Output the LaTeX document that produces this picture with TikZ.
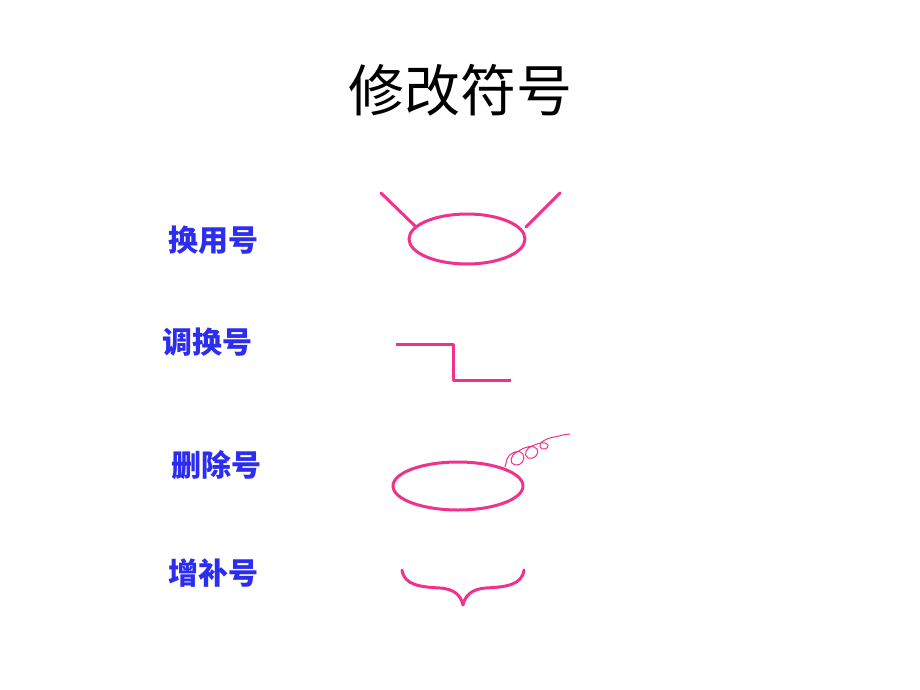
\documentclass[tikz,border=0pt]{standalone}
\usepackage{fontspec}
\newfontfamily\cjk{Noto Sans CJK SC}
\definecolor{markpink}{RGB}{240,50,140}
\definecolor{labelblue}{RGB}{45,45,240}
\tikzset{
  mark line/.style={draw=markpink, line width=3pt, line cap=round, line join=round},
  label text/.style={font=\cjk\bfseries\fontsize{30}{34}\selectfont, text=labelblue, inner sep=0pt},
}
\begin{document}
\begin{tikzpicture}[x=1pt,y=-1pt]
\useasboundingbox (0,0) rectangle (920,690);
\fill[white] (0,0) rectangle (920,690);
% title
\node[font=\cjk\fontsize{56}{62}\selectfont, inner sep=0pt] (title) at (460,90) {修改符号};
% labels
\node[label text] (l1) at (213,240) {换用号};
\node[label text] (l2) at (207,342) {调换号};
\node[label text] (l3) at (216,465) {删除号};
\node[label text] (l4) at (213,573) {增补号};
% 换用号 symbol
\draw[mark line] (467,239) ellipse [x radius=58, y radius=25];
\draw[mark line] (381,193) -- (415,226);
\draw[mark line] (560,193) -- (526,227);
% 调换号 symbol
\draw[mark line, line cap=butt] (396,344) -- (453,344) -- (453,380) -- (511,380);
% 删除号 symbol
\draw[mark line] (458,486) ellipse [x radius=65, y radius=24];
\draw[markpink, line width=1pt, line join=round]
  (505,467) -- (507,459)
  .. controls (510,452) and (520,449) .. (523,454)
  .. controls (526,460) and (521,466) .. (515,465)
  .. controls (509,464) and (510,455) .. (517,452)
  .. controls (524,447) and (534,444) .. (537,449)
  .. controls (540,455) and (533,460) .. (528,458)
  .. controls (523,455) and (526,448) .. (532,446)
  .. controls (538,443) and (546,441) .. (548,445)
  .. controls (549,449) and (542,451) .. (540,447)
  .. controls (538,442) and (548,438) .. (554,437)
  .. controls (560,436) and (565,434) .. (570,434);
% 增补号 symbol
\draw[mark line]
  (402,570) .. controls (404,585) and (420,587) .. (440,588)
  .. controls (455,589) and (461,596) .. (463,605)
  .. controls (465,596) and (471,589) .. (486,588)
  .. controls (506,587) and (522,585) .. (524,570);
\end{tikzpicture}
\end{document}
